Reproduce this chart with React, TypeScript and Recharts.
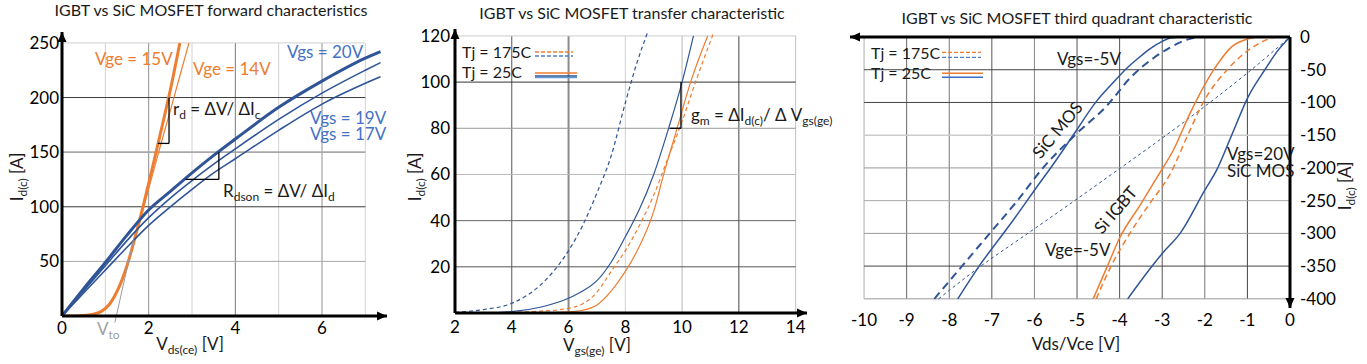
import React from 'react';
import { LineChart, Line, XAxis, YAxis, ReferenceLine, ReferenceDot } from 'recharts';

type Pt = { x: number; y: number };

// ---------- Panel 1: forward characteristics (x: Vds/Vce [V], y: Id/Ic [A])
const fwdSicVgs20: Pt[] = [
  { x: 0, y: 0 }, { x: 0.5, y: 25 }, { x: 1, y: 49 }, { x: 1.5, y: 74 }, { x: 2, y: 97 },
  { x: 2.5, y: 114 }, { x: 3, y: 131 }, { x: 3.5, y: 147 }, { x: 4, y: 162 }, { x: 5, y: 191 },
  { x: 6, y: 215 }, { x: 7, y: 236 }, { x: 7.35, y: 242 },
];
const fwdSicVgs19: Pt[] = [
  { x: 0, y: 0 }, { x: 0.5, y: 23 }, { x: 1, y: 46 }, { x: 1.5, y: 69 }, { x: 2, y: 90 },
  { x: 2.5, y: 108 }, { x: 3, y: 124 }, { x: 3.5, y: 139 }, { x: 4, y: 153 }, { x: 5, y: 180 },
  { x: 6, y: 204 }, { x: 7, y: 225 }, { x: 7.35, y: 232 },
];
const fwdSicVgs17: Pt[] = [
  { x: 0, y: 0 }, { x: 0.5, y: 21 }, { x: 1, y: 42 }, { x: 1.5, y: 63 }, { x: 2, y: 83 },
  { x: 2.5, y: 100 }, { x: 3, y: 116 }, { x: 3.5, y: 131 }, { x: 4, y: 144 }, { x: 5, y: 170 },
  { x: 6, y: 194 }, { x: 7, y: 213 }, { x: 7.35, y: 219 },
];
const fwdIgbtVge15: Pt[] = [
  { x: 0, y: 0 }, { x: 0.4, y: 0.3 }, { x: 0.7, y: 1.5 }, { x: 0.9, y: 4 }, { x: 1.1, y: 11 },
  { x: 1.3, y: 25 }, { x: 1.5, y: 46 }, { x: 1.7, y: 74 }, { x: 1.9, y: 105 }, { x: 2.1, y: 138 },
  { x: 2.3, y: 172 }, { x: 2.5, y: 207 }, { x: 2.72, y: 250 },
];
const fwdIgbtVge14: Pt[] = [
  { x: 0, y: 0 }, { x: 0.4, y: 0.3 }, { x: 0.7, y: 1.5 }, { x: 0.9, y: 4 }, { x: 1.1, y: 11 },
  { x: 1.3, y: 25 }, { x: 1.5, y: 46 }, { x: 1.7, y: 73 }, { x: 1.9, y: 102 }, { x: 2.1, y: 131 },
  { x: 2.3, y: 160 }, { x: 2.5, y: 188 }, { x: 2.7, y: 217 }, { x: 2.93, y: 250 },
];
const fwdXTicks = [0, 2, 4, 6];
const fwdYTicks = [50, 100, 150, 200, 250];
const fwdXGrid = [1, 2, 3, 4, 5, 6, 7];
const fwdYGrid = [50, 100, 150, 200, 250];

// ---------- Panel 2: transfer characteristic (x: Vgs/Vge [V], y: Id/Ic [A])
const trSic175: Pt[] = [
  { x: 2, y: 0.3 }, { x: 3, y: 1.5 }, { x: 4, y: 4.2 }, { x: 5, y: 12 }, { x: 5.5, y: 18.5 },
  { x: 6, y: 27 }, { x: 6.5, y: 38 }, { x: 7, y: 52 }, { x: 7.5, y: 68 }, { x: 8, y: 91 },
  { x: 8.4, y: 108 }, { x: 8.8, y: 122 },
];
const trSic25: Pt[] = [
  { x: 2, y: 0 }, { x: 3, y: 0.1 }, { x: 4, y: 0.6 }, { x: 5, y: 2.5 }, { x: 6, y: 6.4 },
  { x: 6.5, y: 9.5 }, { x: 7, y: 14 }, { x: 7.5, y: 22 }, { x: 8, y: 33 }, { x: 8.5, y: 45 },
  { x: 9, y: 60 }, { x: 9.5, y: 79 }, { x: 10, y: 100 }, { x: 10.4, y: 120 },
];
const trIgbt175: Pt[] = [
  { x: 2, y: 0 }, { x: 4, y: 0.3 }, { x: 5, y: 0.8 }, { x: 6, y: 2 }, { x: 6.5, y: 4 },
  { x: 7, y: 9 }, { x: 7.5, y: 18 }, { x: 8, y: 27 }, { x: 8.5, y: 38 }, { x: 9, y: 51 },
  { x: 9.5, y: 67 }, { x: 10, y: 83 }, { x: 10.5, y: 101 }, { x: 11.1, y: 121 },
];
const trIgbt25: Pt[] = [
  { x: 2, y: 0 }, { x: 5, y: 0.1 }, { x: 6, y: 0.5 }, { x: 6.5, y: 1.2 }, { x: 7, y: 3.5 },
  { x: 7.5, y: 9.5 }, { x: 8, y: 18 }, { x: 8.5, y: 29 }, { x: 9, y: 44 }, { x: 9.35, y: 60 },
  { x: 9.8, y: 79 }, { x: 10.3, y: 100 }, { x: 10.9, y: 120 },
];
const trXTicks = [2, 4, 6, 8, 10, 12, 14];
const trYTicks = [20, 40, 60, 80, 100, 120];

// ---------- Panel 3: third quadrant (x: Vds/Vce [V], y: Id/Ic [A])
const tqSicNeg5T25: Pt[] = [
  { x: -7.8, y: -400 }, { x: -7.33, y: -353 }, { x: -6.5, y: -280 }, { x: -6.02, y: -236 },
  { x: -5.5, y: -189 }, { x: -5.06, y: -147 }, { x: -4.54, y: -98 }, { x: -4.2, y: -73 },
  { x: -3.82, y: -47 }, { x: -3.5, y: -29 }, { x: -3.29, y: -18 }, { x: -3.01, y: -7 },
  { x: -2.77, y: -1 }, { x: -2.4, y: 0 },
];
const tqSicNeg5T175: Pt[] = [
  { x: -8.35, y: -400 }, { x: -7.7, y: -350 }, { x: -7.05, y: -300 }, { x: -6.4, y: -250 },
  { x: -5.8, y: -200 }, { x: -5.05, y: -150 }, { x: -4.3, y: -105 }, { x: -3.73, y: -61 },
  { x: -3.2, y: -32 }, { x: -2.84, y: -17 }, { x: -2.5, y: -6 }, { x: -2.17, y: 0 },
];
const tqSicVgs20T25: Pt[] = [
  { x: -3.81, y: -400 }, { x: -3.25, y: -351 }, { x: -2.99, y: -330 }, { x: -2.58, y: -300 },
  { x: -2.0, y: -234 }, { x: -1.72, y: -203 }, { x: -1.37, y: -150 }, { x: -0.98, y: -91 },
  { x: -0.59, y: -50 }, { x: -0.3, y: -22 }, { x: 0, y: 0 },
];
const tqSicVgs20T175: Pt[] = [
  { x: -8.25, y: -400 }, { x: -7.3, y: -352 }, { x: -6.2, y: -302 }, { x: -5.1, y: -252 },
  { x: -4.3, y: -215 }, { x: -2.43, y: -127 }, { x: -1, y: -55 }, { x: 0, y: 0 },
];
const tqIgbtT25: Pt[] = [
  { x: -4.62, y: -400 }, { x: -4.3, y: -352 }, { x: -4.0, y: -307 }, { x: -3.5, y: -255 },
  { x: -3.08, y: -210 }, { x: -2.74, y: -173 }, { x: -2.35, y: -117 }, { x: -1.8, y: -51 },
  { x: -1.37, y: -15 }, { x: -1.0, y: -3 }, { x: -0.7, y: 0 }, { x: 0, y: 0 },
];
const tqIgbtT175: Pt[] = [
  { x: -4.55, y: -400 }, { x: -4.2, y: -350 }, { x: -3.76, y: -300 }, { x: -3.3, y: -255 },
  { x: -2.82, y: -210 }, { x: -2.4, y: -150 }, { x: -2.03, y: -99 }, { x: -1.49, y: -51 },
  { x: -0.86, y: -15 }, { x: -0.47, y: -2.4 }, { x: -0.3, y: 0 }, { x: 0, y: 0 },
];
const tqXTicks = [-10, -9, -8, -7, -6, -5, -4, -3, -2, -1, 0];
const tqYTicks = [0, -50, -100, -150, -200, -250, -300, -350, -400];
const tqXGrid = [-10, -9, -8, -7, -6, -5, -4, -3, -2, -1];
const tqYGrid = [-50, -100, -150, -200, -250, -300, -350, -400];

// ---------- styles
const FONT = 'Lato, Carlito, "Open Sans", sans-serif';
const ORANGE = '#ED7D31';
const BLUE = '#2F5597';
const BLUE_TXT = '#4472C4';
const TXT = '#1a1a1a';

const axisStyle = { stroke: '#000', strokeWidth: 3 };
const tickStyle = { fill: '#000', fontSize: 17 };

function arrow(dir: 'up' | 'down' | 'left' | 'right') {
  return (p: any) => {
    const cx = p.cx;
    const cy = p.cy;
    const L = 10;
    const W = 4.5;
    let d = '';
    if (dir === 'up') d = `M${cx},${cy} L${cx - W},${cy + L} L${cx + W},${cy + L} Z`;
    if (dir === 'down') d = `M${cx},${cy} L${cx - W},${cy - L} L${cx + W},${cy - L} Z`;
    if (dir === 'right') d = `M${cx},${cy} L${cx - L},${cy - W} L${cx - L},${cy + W} Z`;
    if (dir === 'left') d = `M${cx},${cy} L${cx + L},${cy - W} L${cx + L},${cy + W} Z`;
    return <path d={d} fill="#000" />;
  };
}

function hGrid(ys: number[], x1: number, x2: number, color: (v: number) => string, w: (v: number) => number = () => 1) {
  return ys.map((y) => (
    <ReferenceLine key={'h' + y} segment={[{ x: x1, y }, { x: x2, y }]} stroke={color(y)} strokeWidth={w(y)} ifOverflow="visible" />
  ));
}
function vGrid(xs: number[], y1: number, y2: number, color: (v: number) => string, w: (v: number) => number = () => 1) {
  return xs.map((x) => (
    <ReferenceLine key={'v' + x} segment={[{ x, y: y1 }, { x, y: y2 }]} stroke={color(x)} strokeWidth={w(x)} ifOverflow="visible" />
  ));
}

function seg(x1: number, y1: number, x2: number, y2: number, stroke = '#000', w = 1.3) {
  return <ReferenceLine segment={[{ x: x1, y: y1 }, { x: x2, y: y2 }]} stroke={stroke} strokeWidth={w} ifOverflow="visible" />;
}

function ForwardChart() {
  return (
    <LineChart width={400} height={364} margin={{ top: 32, right: 13, bottom: 18, left: 22 }}>
      <XAxis type="number" dataKey="x" domain={[0, 7.5]} allowDataOverflow ticks={fwdXTicks} interval={0}
        tickLine={false} tickSize={0} tickMargin={6} axisLine={axisStyle} tick={tickStyle} height={30} />
      <YAxis type="number" domain={[0, 260]} allowDataOverflow ticks={fwdYTicks} interval={0}
        tickLine={false} tickSize={0} tickMargin={3} axisLine={axisStyle} tick={tickStyle} width={40} />
      {vGrid(fwdXGrid, 0, 250, (v) => (v % 2 === 0 ? (v === 4 ? '#7a7a7a' : '#8f8f8f') : '#d2d2d2'))}
      {hGrid(fwdYGrid, 0, 7, (v) => (v === 100 || v === 200 ? '#3a3a3a' : v === 250 ? '#d0d0d0' : '#a8a8a8'), (v) => (v === 150 ? 1.6 : 1))}
      <Line data={fwdIgbtVge14} dataKey="y" type="monotone" stroke={ORANGE} strokeWidth={1.2} dot={false} isAnimationActive={false} />
      <Line data={fwdIgbtVge15} dataKey="y" type="monotone" stroke={ORANGE} strokeWidth={3} dot={false} isAnimationActive={false} />
      <Line data={fwdSicVgs17} dataKey="y" type="monotone" stroke={BLUE} strokeWidth={1.6} dot={false} isAnimationActive={false} />
      <Line data={fwdSicVgs19} dataKey="y" type="monotone" stroke={BLUE} strokeWidth={1.6} dot={false} isAnimationActive={false} />
      <Line data={fwdSicVgs20} dataKey="y" type="monotone" stroke={BLUE} strokeWidth={3} dot={false} isAnimationActive={false} />
      {seg(1.22, -6, 1.65, 70, '#9a9a9a', 1)}
      {seg(2.47, 200, 2.47, 158)}
      {seg(2.21, 158, 2.47, 158)}
      {seg(3.62, 150, 3.62, 125)}
      {seg(2.85, 125, 3.62, 125)}
      <ReferenceDot x={0} y={260} r={0} ifOverflow="visible" shape={arrow('up')} />
      <ReferenceDot x={7.5} y={0} r={0} ifOverflow="visible" shape={arrow('right')} />
    </LineChart>
  );
}

function TransferChart() {
  return (
    <LineChart width={420} height={364} margin={{ top: 29, right: 13, bottom: 21, left: 15 }}>
      <XAxis type="number" dataKey="x" domain={[2, 14.4]} allowDataOverflow ticks={trXTicks} interval={0}
        tickLine={false} tickSize={0} tickMargin={8} axisLine={axisStyle} tick={tickStyle} height={30} />
      <YAxis type="number" domain={[0, 123]} allowDataOverflow ticks={trYTicks} interval={0}
        tickLine={false} tickSize={0} tickMargin={5} axisLine={axisStyle} tick={tickStyle} width={40} />
      {vGrid([4, 6, 8, 10, 12, 14], 0, 120,
        (v) => ({ 4: '#555', 6: '#8a8a8a', 8: '#d0d0d0', 10: '#b8b8b8', 12: '#444', 14: '#c0c0c0' } as any)[v],
        (v) => (v === 6 ? 2 : 1))}
      {hGrid([20, 40, 60, 80, 100, 120], 2, 14,
        (v) => ({ 20: '#555', 40: '#666', 60: '#bbb', 80: '#999', 100: '#333', 120: '#ccc' } as any)[v])}
      <Line data={trSic175} dataKey="y" type="monotone" stroke={BLUE} strokeWidth={1.2} strokeDasharray="4 3" dot={false} isAnimationActive={false} />
      <Line data={trIgbt175} dataKey="y" type="monotone" stroke={ORANGE} strokeWidth={1.2} strokeDasharray="4 3" dot={false} isAnimationActive={false} />
      <Line data={trIgbt25} dataKey="y" type="monotone" stroke={ORANGE} strokeWidth={1.2} dot={false} isAnimationActive={false} />
      <Line data={trSic25} dataKey="y" type="monotone" stroke={BLUE} strokeWidth={1.2} dot={false} isAnimationActive={false} />
      {seg(9.96, 100, 9.96, 80)}
      {seg(9.56, 80, 9.96, 80)}
      <ReferenceDot x={2} y={123} r={0} ifOverflow="visible" shape={arrow('up')} />
      <ReferenceDot x={14.4} y={0} r={0} ifOverflow="visible" shape={arrow('right')} />
    </LineChart>
  );
}

function ThirdQuadrantChart() {
  return (
    <LineChart width={537} height={364} margin={{ top: 37, right: 17, bottom: 26, left: 20 }}>
      <XAxis type="number" dataKey="x" domain={[-10.33, 0]} allowDataOverflow ticks={tqXTicks} interval={0}
        tickLine={false} tickSize={0} tickMargin={6} axisLine={false} tick={tickStyle} height={30} />
      <YAxis type="number" orientation="right" domain={[-414, 0]} allowDataOverflow ticks={tqYTicks} interval={0}
        tickLine={false} tickSize={0} tickMargin={10} axisLine={axisStyle} tick={tickStyle} width={60} />
      {vGrid(tqXGrid, -400, 0,
        (v) => ({ '-10': '#aaa', '-9': '#666', '-8': '#777', '-7': '#555', '-6': '#888', '-5': '#555', '-4': '#555', '-3': '#555', '-2': '#777', '-1': '#444' } as any)[String(v)])}
      {hGrid(tqYGrid, -10, 0,
        (v) => ({ '-50': '#444', '-100': '#444', '-150': '#ccc', '-200': '#999', '-250': '#aaa', '-300': '#999', '-350': '#444', '-400': '#999' } as any)[String(v)],
        (v) => (v === -150 ? 1.6 : 1))}
      <Line data={tqSicVgs20T175} dataKey="y" type="monotone" stroke={BLUE} strokeWidth={1} strokeDasharray="3 3" dot={false} isAnimationActive={false} />
      <Line data={tqSicNeg5T175} dataKey="y" type="monotone" stroke={BLUE} strokeWidth={2} strokeDasharray="8 5" dot={false} isAnimationActive={false} />
      <Line data={tqSicNeg5T25} dataKey="y" type="monotone" stroke={BLUE} strokeWidth={1.5} dot={false} isAnimationActive={false} />
      <Line data={tqSicVgs20T25} dataKey="y" type="monotone" stroke={BLUE} strokeWidth={1.5} dot={false} isAnimationActive={false} />
      <Line data={tqIgbtT175} dataKey="y" type="monotone" stroke={ORANGE} strokeWidth={1.5} strokeDasharray="6 4" dot={false} isAnimationActive={false} />
      <Line data={tqIgbtT25} dataKey="y" type="monotone" stroke={ORANGE} strokeWidth={1.5} dot={false} isAnimationActive={false} />
      <ReferenceLine y={0} stroke="#000" strokeWidth={3} />
      <ReferenceDot x={-10.33} y={0} r={0} ifOverflow="visible" shape={arrow('left')} />
      <ReferenceDot x={0} y={-414} r={0} ifOverflow="visible" shape={arrow('down')} />
    </LineChart>
  );
}

function Overlay() {
  const sub = { fontSize: 12 };
  return (
    <svg width={1367} height={364} style={{ position: 'absolute', left: 0, top: 0, pointerEvents: 'none' }} fontFamily={FONT}>
      {/* titles */}
      <text x={211} y={15.5} textAnchor="middle" fontSize={16} fill={TXT}>IGBT vs SiC MOSFET forward characteristics</text>
      <text x={632} y={19} textAnchor="middle" fontSize={16} fill={TXT}>IGBT vs SiC MOSFET transfer characteristic</text>
      <text x={1077} y={24} textAnchor="middle" fontSize={16} fill={TXT}>IGBT vs SiC MOSFET third quadrant characteristic</text>

      {/* panel 1 */}
      <text transform="translate(23,177) rotate(-90)" textAnchor="middle" fontSize={17} fill={TXT}>
        <tspan>I</tspan><tspan dy={4} {...sub}>d(c)</tspan><tspan dy={-4}> [A]</tspan>
      </text>
      <text x={190} y={350} textAnchor="middle" fontSize={17} fill={TXT}>
        <tspan>V</tspan><tspan dy={4} {...sub}>ds(ce)</tspan><tspan dy={-4}> [V]</tspan>
      </text>
      <text x={97} y={335} fontSize={17} fill="#a0a0a0">
        <tspan>V</tspan><tspan dy={4} {...sub}>to</tspan>
      </text>
      <text x={95} y={65} fontSize={17} fill={ORANGE}>Vge = 15V</text>
      <text x={193} y={75} fontSize={17} fill={ORANGE}>Vge = 14V</text>
      <text x={287} y={58} fontSize={17} fill={BLUE_TXT}>Vgs = 20V</text>
      <text x={310} y={124} fontSize={17} fill={BLUE_TXT}>Vgs = 19V</text>
      <text x={310} y={140} fontSize={17} fill={BLUE_TXT}>Vgs = 17V</text>
      <text x={173} y={115} fontSize={17} fill={TXT}>
        <tspan>r</tspan><tspan dy={4} {...sub}>d</tspan><tspan dy={-4}> = ΔV/ ΔI</tspan><tspan dy={4} {...sub}>c</tspan>
      </text>
      <text x={223} y={197} fontSize={17} fill={TXT}>
        <tspan>R</tspan><tspan dy={4} {...sub}>dson</tspan><tspan dy={-4}> = ΔV/ ΔI</tspan><tspan dy={4} {...sub}>d</tspan>
      </text>

      {/* panel 2 */}
      <text transform="translate(421,177) rotate(-90)" textAnchor="middle" fontSize={17} fill={TXT}>
        <tspan>I</tspan><tspan dy={4} {...sub}>d(c)</tspan><tspan dy={-4}> [A]</tspan>
      </text>
      <text x={597} y={351} textAnchor="middle" fontSize={17} fill={TXT}>
        <tspan>V</tspan><tspan dy={4} {...sub}>gs(ge)</tspan><tspan dy={-4}> [V]</tspan>
      </text>
      <text x={691} y={121} fontSize={17} fill={TXT}>
        <tspan>g</tspan><tspan dy={4} {...sub}>m</tspan><tspan dy={-4}> = ΔI</tspan><tspan dy={4} {...sub}>d(c)</tspan>
        <tspan dy={-4}>/ Δ V</tspan><tspan dy={4} {...sub}>gs(ge)</tspan>
      </text>
      <text x={462} y={58} fontSize={16} fill={TXT}>Tj = 175C</text>
      <text x={462} y={78} fontSize={16} fill={TXT}>Tj = 25C</text>
      <line x1={535} x2={573} y1={52} y2={52} stroke={ORANGE} strokeWidth={1.3} strokeDasharray="4 2" />
      <line x1={535} x2={573} y1={56} y2={56} stroke="#4f81c9" strokeWidth={1.3} strokeDasharray="4 2" />
      <line x1={535} x2={577} y1={73} y2={73} stroke={ORANGE} strokeWidth={1.3} />
      <line x1={535} x2={577} y1={76} y2={76} stroke={BLUE} strokeWidth={1.3} />
      <line x1={535} x2={577} y1={77.6} y2={77.6} stroke="#5B9BD5" strokeWidth={1.2} />

      {/* panel 3 */}
      <text transform="translate(1351,186) rotate(-90)" textAnchor="middle" fontSize={17} fill={TXT}>
        <tspan>I</tspan><tspan dy={4} {...sub}>d(c)</tspan><tspan dy={-4}> [A]</tspan>
      </text>
      <text x={1076} y={350} textAnchor="middle" fontSize={17} fill={TXT}>Vds/Vce [V]</text>
      <text x={871} y={58.5} fontSize={16} fill={TXT}>Tj = 175C</text>
      <text x={871} y={78.5} fontSize={16} fill={TXT}>Tj = 25C</text>
      <line x1={942} x2={981} y1={52.3} y2={52.3} stroke={ORANGE} strokeWidth={1.3} strokeDasharray="4 2" />
      <line x1={942} x2={981} y1={57.3} y2={57.3} stroke="#4f81c9" strokeWidth={1.3} strokeDasharray="4 2" />
      <line x1={942} x2={983} y1={73.3} y2={73.3} stroke={ORANGE} strokeWidth={1.5} />
      <line x1={942} x2={983} y1={77.3} y2={77.3} stroke="#3f6fc0" strokeWidth={1.5} />
      <text x={1057} y={65} fontSize={17} fill={TXT}>Vgs=-5V</text>
      <text x={1045} y={256} fontSize={17} fill={TXT}>Vge=-5V</text>
      <text x={1227} y={160} fontSize={17} fill={TXT}>Vgs=20V</text>
      <text x={1227} y={177} fontSize={17} fill={TXT}>SiC MOS</text>
      <text transform="translate(1057.5,130) rotate(-50)" textAnchor="middle" dy={6} fontSize={17} fill={TXT}>SiC MOS</text>
      <text transform="translate(1115.7,210) rotate(-49)" textAnchor="middle" dy={6} fontSize={17} fill={TXT}>Si IGBT</text>
    </svg>
  );
}

export default function App() {
  return (
    <div style={{ position: 'absolute', left: 0, top: 0, width: 1367, height: 364, background: '#fff', fontFamily: FONT, overflow: 'hidden' }}>
      <div style={{ position: 'absolute', left: 0, top: 0 }}><ForwardChart /></div>
      <div style={{ position: 'absolute', left: 400, top: 0 }}><TransferChart /></div>
      <div style={{ position: 'absolute', left: 830, top: 0 }}><ThirdQuadrantChart /></div>
      <Overlay />
    </div>
  );
}
